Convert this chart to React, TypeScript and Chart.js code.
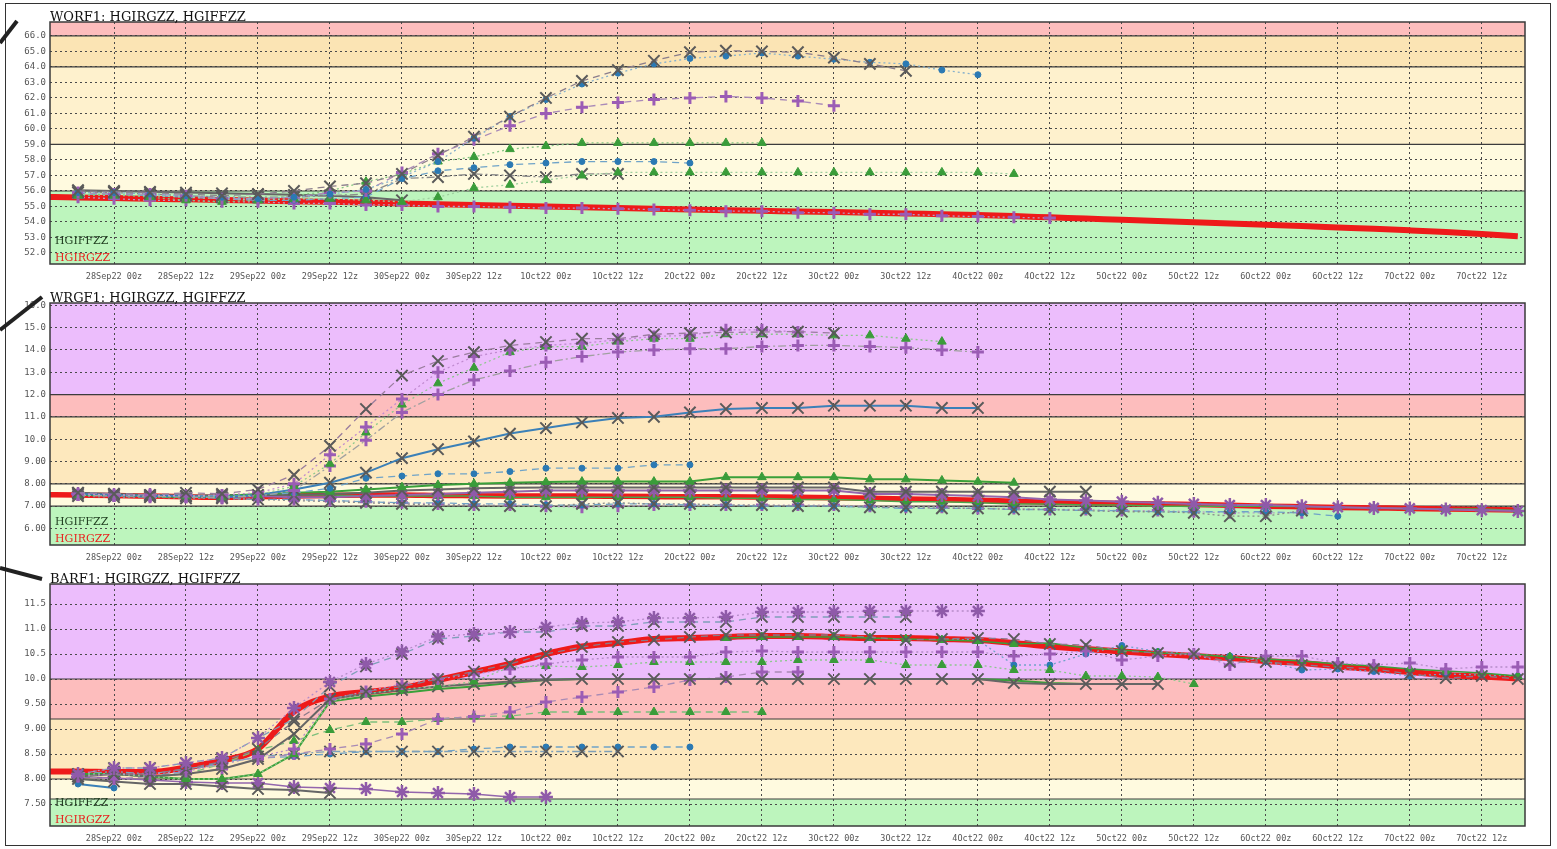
import React, { useEffect, useRef } from "react";
import { Chart, registerables } from "chart.js";
Chart.register(...registerables);

// ---------- shared axis data ----------
const xTickHours = [0, 12, 24, 36, 48, 60, 72, 84, 96, 108, 120, 132, 144, 156, 168, 180, 192, 204, 216, 228];
const xTickLabels = [
  "28Sep22 00z", "28Sep22 12z", "29Sep22 00z", "29Sep22 12z", "30Sep22 00z", "30Sep22 12z",
  "1Oct22 00z", "1Oct22 12z", "2Oct22 00z", "2Oct22 12z", "3Oct22 00z", "3Oct22 12z",
  "4Oct22 00z", "4Oct22 12z", "5Oct22 00z", "5Oct22 12z", "6Oct22 00z", "6Oct22 12z",
  "7Oct22 00z", "7Oct22 12z",
];
// hours relative to 28Sep22 00z
const obsHours = [-12, -6, 0, 6, 12, 18, 24, 30, 36, 42, 48, 54, 60, 66, 72, 78, 84, 90, 96, 102, 108, 114, 120, 126, 132, 138, 144, 150, 156, 162, 168, 174, 180, 186, 192, 198, 204, 210, 216, 222, 228, 234];
const memberHours = [-6, 0, 6, 12, 18, 24, 30, 36, 42, 48, 54, 60, 66, 72, 78, 84, 90, 96, 102, 108, 114, 120, 126, 132, 138, 144, 150, 156, 162, 168, 174, 180, 186, 192, 198, 204, 210, 216, 222, 228, 234];

// ---------- WORF1 ----------
const worfTitle = "WORF1: HGIRGZZ, HGIFFZZ";
const worfYTicks = [52, 53, 54, 55, 56, 57, 58, 59, 60, 61, 62, 63, 64, 65, 66];
const worfBandEdges = [56, 59, 64, 66];
const worfRed = [55.62, 55.58, 55.55, 55.5, 55.46, 55.42, 55.38, 55.34, 55.3, 55.25, 55.2, 55.15, 55.1, 55.05, 55.0, 54.95, 54.9, 54.85, 54.8, 54.76, 54.72, 54.68, 54.64, 54.6, 54.55, 54.5, 54.45, 54.38, 54.3, 54.22, 54.14, 54.06, 53.98, 53.9, 53.82, 53.74, 53.65, 53.56, 53.46, 53.35, 53.22, 53.08];
const worfMemA = [56.0, 55.95, 55.9, 55.8, 55.7, 55.8, 56.0, 56.3, 56.5, 57.1, 58.3, 59.5, 60.8, 62.0, 63.1, 63.8, 64.4, 64.95, 65.05, 65.0, 64.95, 64.6, 64.2, 63.75];
const worfMemB = [55.9, 55.9, 55.8, 55.7, 55.6, 55.5, 55.6, 55.8, 56.1, 56.9, 57.9, 59.4, 60.8, 61.9, 62.9, 63.6, 64.2, 64.55, 64.7, 64.9, 64.7, 64.5, 64.3, 64.2, 63.8, 63.5];
const worfMemC = [55.9, 55.8, 55.8, 55.7, 55.5, 55.5, 55.6, 55.9, 56.0, 57.2, 58.4, 59.3, 60.2, 61.0, 61.4, 61.7, 61.9, 62.0, 62.1, 62.0, 61.8, 61.5];
const worfMemD = [55.7, 55.8, 55.6, 55.4, 55.3, 55.4, 55.7, 56.0, 56.6, 57.1, 57.9, 58.2, 58.7, 58.9, 59.1, 59.1, 59.1, 59.1, 59.1, 59.1];
const worfMemE = [55.8, 55.7, 55.7, 55.6, 55.5, 55.4, 55.5, 55.5, 55.4, 55.3, 55.6, 56.2, 56.4, 56.7, 57.0, 57.2, 57.2, 57.2, 57.2, 57.2, 57.2, 57.2, 57.2, 57.2, 57.2, 57.2, 57.1];
const worfMemF = [55.8, 55.8, 55.7, 55.6, 55.5, 55.4, 55.4, 55.5, 55.6, 56.8, 57.3, 57.5, 57.7, 57.8, 57.9, 57.9, 57.9, 57.8];
const worfMemG = [55.9, 55.9, 55.8, 55.7, 55.6, 55.6, 55.6, 55.7, 55.8, 56.8, 56.9, 57.1, 57.0, 56.9, 57.1, 57.1];
const worfMemH = [55.6, 55.5, 55.4, 55.4, 55.3, 55.3, 55.2, 55.2, 55.1, 55.1, 55.0, 55.0, 54.95, 54.9, 54.9, 54.85, 54.8, 54.75, 54.7, 54.7, 54.6, 54.6, 54.5, 54.5, 54.4, 54.35, 54.3, 54.25];
const worfMemI = [56.05, 56.0, 55.95, 55.9, 55.85, 55.8, 55.75, 55.7, 55.6, 55.4];

// ---------- WRGF1 ----------
const wrgfTitle = "WRGF1: HGIRGZZ, HGIFFZZ";
const wrgfYTicks = [6, 7, 8, 9, 10, 11, 12, 13, 14, 15, 16];
const wrgfBandEdges = [7, 8, 11, 12];
const wrgfRed = [7.52, 7.5, 7.48, 7.45, 7.42, 7.4, 7.42, 7.45, 7.48, 7.5, 7.5, 7.48, 7.47, 7.46, 7.45, 7.45, 7.44, 7.43, 7.42, 7.42, 7.41, 7.4, 7.38, 7.35, 7.32, 7.3, 7.27, 7.22, 7.18, 7.15, 7.12, 7.1, 7.07, 7.04, 7.0, 6.97, 6.94, 6.92, 6.9, 6.87, 6.85, 6.83];
const wrgfMemA = [7.6, 7.55, 7.5, 7.6, 7.55, 7.75, 8.4, 9.7, 11.35, 12.85, 13.5, 13.9, 14.2, 14.35, 14.5, 14.5, 14.7, 14.75, 14.78, 14.8, 14.82, 14.75];
const wrgfMemB = [7.55, 7.5, 7.5, 7.45, 7.5, 7.6, 8.0, 9.3, 10.55, 11.8, 13.0, 13.7, 14.0, 14.2, 14.3, 14.45, 14.6, 14.65, 14.9, 14.9, 14.8];
const wrgfMemC = [7.5, 7.5, 7.45, 7.45, 7.4, 7.5, 7.9, 8.9, 10.3, 11.55, 12.5, 13.2, 13.9, 14.15, 14.15, 14.37, 14.5, 14.5, 14.7, 14.7, 14.7, 14.65, 14.65, 14.5, 14.37];
const wrgfMemD = [7.5, 7.45, 7.45, 7.4, 7.4, 7.45, 7.7, 8.8, 9.95, 11.2, 12.0, 12.65, 13.05, 13.45, 13.7, 13.9, 14.0, 14.05, 14.05, 14.15, 14.2, 14.2, 14.15, 14.1, 14.0, 13.9];
const wrgfMemE = [7.55, 7.5, 7.45, 7.45, 7.4, 7.5, 7.75, 8.05, 8.5, 9.15, 9.55, 9.9, 10.25, 10.5, 10.75, 10.95, 11.0, 11.2, 11.35, 11.4, 11.4, 11.5, 11.5, 11.5, 11.4, 11.4];
const wrgfMemF = [7.6, 7.55, 7.5, 7.5, 7.45, 7.5, 7.6, 7.8, 8.25, 8.35, 8.45, 8.45, 8.55, 8.7, 8.7, 8.7, 8.85, 8.85];
const wrgfMemG = [7.5, 7.5, 7.45, 7.4, 7.45, 7.55, 7.6, 7.65, 7.75, 7.85, 7.95, 8.0, 8.05, 8.08, 8.1, 8.1, 8.1, 8.1, 8.3, 8.3, 8.3, 8.3, 8.2, 8.2, 8.15, 8.1, 8.05];
const wrgfMemH = [7.6, 7.55, 7.5, 7.45, 7.5, 7.5, 7.5, 7.55, 7.6, 7.7, 7.75, 7.8, 7.82, 7.84, 7.84, 7.84, 7.84, 7.84, 7.84, 7.84, 7.84, 7.84, 7.65, 7.65, 7.65, 7.65, 7.65, 7.65, 7.65];
const wrgfMemI = [7.55, 7.5, 7.5, 7.45, 7.4, 7.45, 7.4, 7.4, 7.45, 7.5, 7.55, 7.6, 7.65, 7.7, 7.7, 7.7, 7.7, 7.7, 7.7, 7.7, 7.7, 7.7, 7.55, 7.55, 7.5, 7.45, 7.4, 7.3, 7.25, 7.2, 7.15, 7.1, 7.05, 7.05, 7.0, 6.95, 6.92, 6.9, 6.85, 6.82, 6.78];
const wrgfMemJ = [7.45, 7.4, 7.4, 7.35, 7.35, 7.3, 7.25, 7.2, 7.15, 7.1, 7.05, 7.05, 7.0, 7.0, 7.1, 7.15, 7.1, 7.1, 7.05, 7.05, 7.0, 7.0, 6.95, 6.95, 6.9, 6.9, 6.85, 6.85, 6.8, 6.75, 6.75, 6.7, 6.55, 6.55, 6.8];
const wrgfMemK = [7.5, 7.45, 7.4, 7.4, 7.35, 7.3, 7.3, 7.25, 7.2, 7.15, 7.15, 7.1, 7.1, 7.05, 7.05, 7.1, 7.1, 7.05, 7.05, 7.0, 7.0, 7.0, 6.95, 6.9, 6.9, 6.9, 6.85, 6.85, 6.8, 6.8, 6.75, 6.75, 6.75, 6.75, 6.7, 6.55];
const wrgfMemL = [7.5, 7.5, 7.5, 7.45, 7.45, 7.45, 7.5, 7.5, 7.45, 7.45, 7.45, 7.45, 7.4, 7.4, 7.4, 7.4, 7.4, 7.4, 7.35, 7.35, 7.3, 7.3, 7.25, 7.2, 7.2, 7.15, 7.1, 7.1, 7.05, 7.05, 7.0, 7.0, 7.0, 7.0, 6.98, 6.95, 6.92, 6.88, 6.87, 6.87, 6.8];
const wrgfMemM = [7.5, 7.45, 7.4, 7.4, 7.35, 7.3, 7.3, 7.25, 7.2, 7.15, 7.1, 7.05, 7.05, 7.0, 6.95, 7.0, 7.05, 7.05, 7.05, 7.05, 7.05, 7.05, 7.0, 6.95, 6.95, 6.9, 6.9, 6.85, 6.85, 6.8, 6.8, 6.75, 6.7, 6.7, 6.7];

// ---------- BARF1 ----------
const barfTitle = "BARF1: HGIRGZZ, HGIFFZZ";
const barfYTicks = [7.5, 8.0, 8.5, 9.0, 9.5, 10.0, 10.5, 11.0, 11.5];
const barfBandEdges = [7.6, 8.0, 9.2, 10.0];
const barfRed = [8.15, 8.15, 8.14, 8.14, 8.23, 8.37, 8.6, 9.35, 9.65, 9.74, 9.82, 9.98, 10.14, 10.3, 10.5, 10.65, 10.72, 10.8, 10.82, 10.84, 10.86, 10.86, 10.84, 10.82, 10.82, 10.8, 10.78, 10.72, 10.65, 10.6, 10.55, 10.5, 10.46, 10.42, 10.36, 10.32, 10.25, 10.2, 10.14, 10.08, 10.05, 10.01];
const barfMemS = [8.1, 8.22, 8.22, 8.32, 8.42, 8.82, 9.42, 9.94, 10.3, 10.55, 10.85, 10.9, 10.94, 11.04, 11.12, 11.14, 11.22, 11.22, 11.24, 11.34, 11.34, 11.34, 11.36, 11.36, 11.36, 11.36];
const barfMemTop2 = [8.1, 8.22, 8.22, 8.32, 8.42, 8.82, 9.2, 9.85, 10.25, 10.5, 10.8, 10.86, 10.94, 10.94, 11.06, 11.06, 11.14, 11.14, 11.14, 11.24, 11.24, 11.24, 11.24, 11.24];
const barfMemX = [8.05, 8.1, 8.1, 8.2, 8.35, 8.6, 9.15, 9.6, 9.75, 9.85, 10.0, 10.15, 10.3, 10.5, 10.64, 10.74, 10.78, 10.84, 10.88, 10.88, 10.88, 10.88, 10.84, 10.78, 10.8, 10.82, 10.8, 10.7, 10.68, 10.56, 10.52, 10.5, 10.34, 10.34, 10.28, 10.24, 10.2, 10.1, 10.02, 10.06, 10.0];
const barfMemP = [8.05, 8.1, 8.1, 8.15, 8.3, 8.45, 8.6, 9.6, 9.75, 9.9, 10.0, 10.1, 10.2, 10.3, 10.38, 10.44, 10.44, 10.44, 10.54, 10.56, 10.54, 10.54, 10.54, 10.54, 10.54, 10.54, 10.46, 10.5, 10.56, 10.38, 10.46, 10.5, 10.28, 10.46, 10.46, 10.32, 10.28, 10.32, 10.2, 10.24, 10.24];
const barfMemGT = [8.1, 8.1, 8.05, 8.0, 8.0, 8.1, 8.5, 9.55, 9.7, 9.8, 9.85, 9.95, 10.24, 10.26, 10.24, 10.28, 10.34, 10.34, 10.34, 10.34, 10.38, 10.38, 10.38, 10.28, 10.28, 10.28, 10.18, 10.18, 10.06, 10.06, 10.04, 9.9];
const barfMemTen = [8.05, 8.1, 8.05, 8.1, 8.2, 8.4, 8.9, 9.6, 9.7, 9.78, 9.85, 9.9, 9.95, 9.98, 10.0, 10.0, 10.0, 10.0, 10.0, 10.0, 10.0, 10.0, 10.0, 10.0, 10.0, 10.0, 9.92, 9.9, 9.9, 9.9, 9.9];
const barfMemTenGreen = [8.1, 8.1, 8.05, 8.0, 8.0, 8.1, 8.5, 9.55, 9.65, 9.72, 9.8, 9.85, 9.92, 9.98, 10.0, 10.0, 10.0, 10.0, 10.0, 10.0, 10.0, 10.0, 10.0, 10.0, 10.0, 10.0, 9.97, 9.92, 9.9, 9.9, 9.9];
const barfMemPmid = [8.05, 8.0, 8.05, 8.1, 8.2, 8.4, 8.5, 8.6, 8.7, 8.9, 9.2, 9.25, 9.34, 9.54, 9.64, 9.74, 9.84, 9.98, 10.04, 10.14, 10.14];
const barfMemGTlow = [8.1, 8.1, 8.05, 8.1, 8.3, 8.58, 8.76, 8.98, 9.14, 9.14, 9.2, 9.25, 9.26, 9.34, 9.34, 9.34, 9.34, 9.34, 9.34, 9.34];
const barfMemXlow = [8.1, 8.15, 8.1, 8.2, 8.3, 8.45, 8.5, 8.55, 8.55, 8.55, 8.55, 8.55, 8.55, 8.55, 8.55, 8.55];
const barfMemBlow = [8.1, 8.1, 8.05, 8.15, 8.35, 8.42, 8.45, 8.5, 8.55, 8.55, 8.55, 8.6, 8.64, 8.64, 8.64, 8.64, 8.64, 8.64];
const barfMemLowGray = [8.0, 7.95, 7.9, 7.9, 7.85, 7.8, 7.78, 7.72];
const barfMemLowBlue = [7.9, 7.82];
const barfMemLowPurple = [8.04, 8.02, 7.98, 7.94, 7.92, 7.92, 7.84, 7.82, 7.8, 7.74, 7.72, 7.7, 7.64, 7.64];
const barfMemGR = [null, null, null, null, null, null, null, null, null, null, null, null, null, null, null, null, null, null, 10.82, 10.84, 10.84, 10.84, 10.82, 10.8, 10.78, 10.76, 10.7, 10.72, 10.62, 10.58, 10.52, 10.5, 10.44, 10.4, 10.36, 10.3, 10.26, 10.2, 10.16, 10.12, 10.06];
const barfMemBR = [null, null, null, null, null, null, null, null, null, null, null, null, null, null, null, null, null, null, null, null, null, null, null, null, 10.8, 10.78, 10.28, 10.28, 10.5, 10.67, 10.55, 10.5, 10.46, 10.35, 10.18, 10.2, 10.15, 10.06, 10.1, 10.08, 10.06];

// ---------- styles ----------
type Marker = "x" | "plus" | "star" | "tri" | "dot" | "none";
interface MemberStyle { marker: Marker; color: string; dash: number[]; width: number }
const DASH = [7, 5];
const DOT = [2, 3];
const DASHDOT = [8, 3, 2, 3];
const SOLID: number[] = [];
const st = (marker: Marker, color: string, dash: number[], width = 1.3): MemberStyle => ({ marker, color, dash, width });

const bandColors5 = {
  worf: ["#bdf5bd", "#fffadf", "#fef1cd", "#fbe4b4", "#fdbdbd"],
  wrgf: ["#bdf5bd", "#fffadf", "#fde8bd", "#fdbdbd", "#ecbdfc"],
  barf: ["#bdf5bd", "#fffadf", "#fde8bd", "#fdbdbd", "#ecbdfc"],
};

interface PanelCfg {
  title: string; top: number; yMin: number; yMax: number; yTicks: number[];
  edges: number[]; colors: string[]; red: number[]; redWidth: number;
  members: [string, (number | null)[], MemberStyle][];
}

const panels: PanelCfg[] = [
  {
    title: worfTitle, top: 2, yMin: 51.29, yMax: 66.9, yTicks: worfYTicks, edges: worfBandEdges,
    colors: bandColors5.worf, red: worfRed, redWidth: 6,
    members: [
      ["A", worfMemA, st("x", "#8a7d8c", DASH)],
      ["B", worfMemB, st("dot", "#86b0cc", DOT)],
      ["C", worfMemC, st("plus", "#aa8bb8", DASH)],
      ["D", worfMemD, st("tri", "#82c482", DOT)],
      ["E", worfMemE, st("tri", "#9fd09f", DOT)],
      ["F", worfMemF, st("dot", "#6fa3c8", DASH)],
      ["G", worfMemG, st("x", "#8a8a8a", DASHDOT)],
      ["H", worfMemH, st("plus", "#b79cc4", DOT)],
      ["I", worfMemI, st("x", "#666666", SOLID, 2)],
    ],
  },
  {
    title: wrgfTitle, top: 283, yMin: 5.26, yMax: 16.1, yTicks: wrgfYTicks, edges: wrgfBandEdges,
    colors: bandColors5.wrgf, red: wrgfRed, redWidth: 5.5,
    members: [
      ["A", wrgfMemA, st("x", "#9a7d9e", DASH)],
      ["B", wrgfMemB, st("plus", "#c08ad0", DOT)],
      ["C", wrgfMemC, st("tri", "#8cc88c", DOT)],
      ["D", wrgfMemD, st("plus", "#a0a0a0", DASHDOT)],
      ["E", wrgfMemE, st("x", "#3b80b8", SOLID, 2)],
      ["F", wrgfMemF, st("dot", "#6fa3c8", DASH)],
      ["G", wrgfMemG, st("tri", "#3aa03a", SOLID, 2)],
      ["H", wrgfMemH, st("x", "#666666", SOLID, 2)],
      ["I", wrgfMemI, st("star", "#9366ad", SOLID, 2)],
      ["J", wrgfMemJ, st("x", "#8a8a8a", DOT)],
      ["K", wrgfMemK, st("dot", "#6fa3c8", DASH)],
      ["L", wrgfMemL, st("tri", "#4aa54a", SOLID, 1.5)],
      ["M", wrgfMemM, st("plus", "#b79cc4", DOT)],
    ],
  },
  {
    title: barfTitle, top: 564, yMin: 7.06, yMax: 11.9, yTicks: barfYTicks, edges: barfBandEdges,
    colors: bandColors5.barf, red: barfRed, redWidth: 6,
    members: [
      ["S", barfMemS, st("star", "#b58cc8", DOT)],
      ["T2", barfMemTop2, st("x", "#7f9fb8", DASH)],
      ["X", barfMemX, st("x", "#8a7a8a", DASH)],
      ["P", barfMemP, st("plus", "#b58cc8", DOT)],
      ["GT", barfMemGT, st("tri", "#8cc88c", DOT)],
      ["Ten", barfMemTen, st("x", "#666666", SOLID, 2)],
      ["TenG", barfMemTenGreen, st("none", "#3aa03a", SOLID, 2)],
      ["Pmid", barfMemPmid, st("plus", "#a98bb5", DASH)],
      ["GTlow", barfMemGTlow, st("tri", "#7cbf7c", DASH)],
      ["Xlow", barfMemXlow, st("x", "#7f9fb8", DASHDOT)],
      ["Blow", barfMemBlow, st("dot", "#6fa3c8", DASH)],
      ["LowGray", barfMemLowGray, st("x", "#666666", SOLID, 2)],
      ["LowBlue", barfMemLowBlue, st("dot", "#3b80b8", SOLID, 2)],
      ["LowPurple", barfMemLowPurple, st("star", "#9366ad", SOLID, 1.5)],
      ["GR", barfMemGR, st("tri", "#3aa03a", SOLID, 1.5)],
      ["BR", barfMemBR, st("dot", "#6fa3c8", DOT)],
    ],
  },
];

function markerProps(m: Marker) {
  switch (m) {
    case "x": return { pointStyle: "crossRot", pointRadius: 8, pointBorderColor: "#5a5a5a", pointBackgroundColor: "#5a5a5a", pointBorderWidth: 2 };
    case "plus": return { pointStyle: "cross", pointRadius: 6, pointBorderColor: "#9b5cb5", pointBackgroundColor: "#9b5cb5", pointBorderWidth: 3 };
    case "star": return { pointStyle: "star", pointRadius: 7, pointBorderColor: "#8f5aa9", pointBackgroundColor: "#8f5aa9", pointBorderWidth: 2.5 };
    case "tri": return { pointStyle: "triangle", pointRadius: 5, pointBorderColor: "#3a9c3a", pointBackgroundColor: "#3a9c3a", pointBorderWidth: 1 };
    case "dot": return { pointStyle: "circle", pointRadius: 3, pointBorderColor: "#2b79b3", pointBackgroundColor: "#2b79b3", pointBorderWidth: 1 };
    default: return { pointRadius: 0 };
  }
}

const toPoints = (hours: number[], vals: (number | null)[]) =>
  vals.map((v, i) => ({ x: hours[i], y: v === null ? null : v }));

const MONO = "'DejaVu Sans Mono', monospace";

function makeDecoPlugin(p: PanelCfg) {
  return {
    id: "panelDeco",
    beforeDraw(chart: any) {
      const { ctx, chartArea: a, scales } = chart;
      const y = scales.y;
      const bounds = [-Infinity, ...p.edges, Infinity];
      ctx.save();
      for (let i = 0; i < bounds.length - 1; i++) {
        const lo = bounds[i] === -Infinity ? a.bottom : y.getPixelForValue(bounds[i]);
        const hi = bounds[i + 1] === Infinity ? a.top : y.getPixelForValue(bounds[i + 1]);
        const b = Math.min(a.bottom, Math.max(a.top, lo));
        const t = Math.min(a.bottom, Math.max(a.top, hi));
        ctx.fillStyle = p.colors[i];
        ctx.fillRect(a.left, t, a.right - a.left, b - t);
      }
      ctx.restore();
    },
    beforeDatasetsDraw(chart: any) {
      const { ctx, chartArea: a, scales } = chart;
      ctx.save();
      ctx.strokeStyle = "#3c3c3c";
      ctx.lineWidth = 1.2;
      for (const e of p.edges) {
        const py = scales.y.getPixelForValue(e);
        if (py < a.top || py > a.bottom) continue;
        ctx.beginPath();
        ctx.moveTo(a.left, py);
        ctx.lineTo(a.right, py);
        ctx.stroke();
      }
      ctx.restore();
    },
    afterDatasetsDraw(chart: any) {
      const { ctx, chartArea: a } = chart;
      ctx.save();
      ctx.font = "11px 'DejaVu Serif', serif";
      ctx.textBaseline = "alphabetic";
      ctx.textAlign = "left";
      ctx.fillStyle = "#1f3d1f";
      ctx.fillText("HGIFFZZ", a.left + 5, a.bottom - 20);
      ctx.fillStyle = "#e8231f";
      ctx.fillText("HGIRGZZ", a.left + 5, a.bottom - 3);
      ctx.strokeStyle = "#3a3a3a";
      ctx.lineWidth = 1.5;
      ctx.strokeRect(a.left, a.top, a.right - a.left, a.bottom - a.top);
      ctx.restore();
    },
    afterDraw(chart: any) {
      const { ctx, chartArea: a } = chart;
      ctx.save();
      ctx.font = "13px 'DejaVu Serif', serif";
      ctx.fillStyle = "#111111";
      ctx.textAlign = "left";
      ctx.textBaseline = "alphabetic";
      ctx.fillText(p.title, a.left, a.top - 1);
      ctx.restore();
    },
  };
}

function Panel({ cfg }: { cfg: PanelCfg }) {
  const ref = useRef<HTMLCanvasElement>(null);
  useEffect(() => {
    const datasets: any[] = cfg.members.map(([label, vals, s]) => ({
      label,
      data: toPoints(memberHours, vals),
      borderColor: s.color,
      backgroundColor: s.color,
      borderWidth: s.width,
      borderDash: s.dash,
      fill: false,
      tension: 0,
      spanGaps: false,
      clip: 1,
      order: 0,
      ...markerProps(s.marker),
    }));
    datasets.push({
      label: "HGIRGZZ",
      data: toPoints(obsHours, cfg.red),
      borderColor: "#ee1a1a",
      backgroundColor: "#ee1a1a",
      borderWidth: cfg.redWidth,
      pointRadius: 0,
      fill: false,
      cubicInterpolationMode: "monotone",
      clip: 0,
      order: 1,
    });
    const gridCommon = { color: "#4a4a4a", lineWidth: 1, drawTicks: false };
    const chart = new Chart(ref.current as HTMLCanvasElement, {
      type: "line",
      data: { datasets },
      plugins: [makeDecoPlugin(cfg)],
      options: {
        animation: false,
        responsive: false,
        maintainAspectRatio: false,
        layout: { padding: { top: 20, right: 32, bottom: 0, left: 0 } },
        plugins: { legend: { display: false }, tooltip: { enabled: false }, title: { display: false } },
        scales: {
          x: {
            type: "linear",
            min: -10.67,
            max: 235.2,
            afterBuildTicks: (s: any) => { s.ticks = xTickHours.map((v) => ({ value: v })); },
            afterFit: (s: any) => { s.height = 23; },
            ticks: {
              autoSkip: false, maxRotation: 0, minRotation: 0, padding: 8, color: "#555555",
              font: { family: MONO, size: 8.5 },
              callback: (v: any) => { const i = xTickHours.indexOf(Number(v)); return i >= 0 ? xTickLabels[i] : ""; },
            },
            grid: gridCommon,
            border: { display: false, dash: [2, 3] },
          },
          y: {
            type: "linear",
            min: cfg.yMin,
            max: cfg.yMax,
            afterBuildTicks: (s: any) => { s.ticks = cfg.yTicks.map((v) => ({ value: v })); },
            afterFit: (s: any) => { s.width = 50; },
            ticks: {
              padding: 4, color: "#555555", font: { family: MONO, size: 9 },
              callback: (v: any) => Number(v).toPrecision(3),
            },
            grid: gridCommon,
            border: { display: false, dash: [2, 3] },
          },
        },
      } as any,
    });
    return () => chart.destroy();
  }, [cfg]);
  return (
    <canvas
      ref={ref}
      width={1557}
      height={285}
      style={{ position: "absolute", left: 0, top: cfg.top, width: 1557, height: 285 }}
    />
  );
}

export default function App() {
  useEffect(() => {
    document.body.style.margin = "0";
  }, []);
  return (
    <div style={{ position: "relative", width: 1557, height: 849, background: "#ffffff", overflow: "hidden" }}>
      <div style={{ position: "absolute", left: 5, top: 3, width: 1546, height: 843, border: "1.5px solid #333", boxSizing: "border-box" }} />
      {panels.map((p) => (
        <Panel key={p.title} cfg={p} />
      ))}
      <svg width={1557} height={849} style={{ position: "absolute", left: 0, top: 0, pointerEvents: "none" }}>
        <line x1={0} y1={43} x2={17} y2={21} stroke="#222" strokeWidth={4} />
        <line x1={0} y1={330} x2={42} y2={297} stroke="#222" strokeWidth={4} />
        <line x1={0} y1={568} x2={42} y2={579} stroke="#222" strokeWidth={4} />
      </svg>
    </div>
  );
}
